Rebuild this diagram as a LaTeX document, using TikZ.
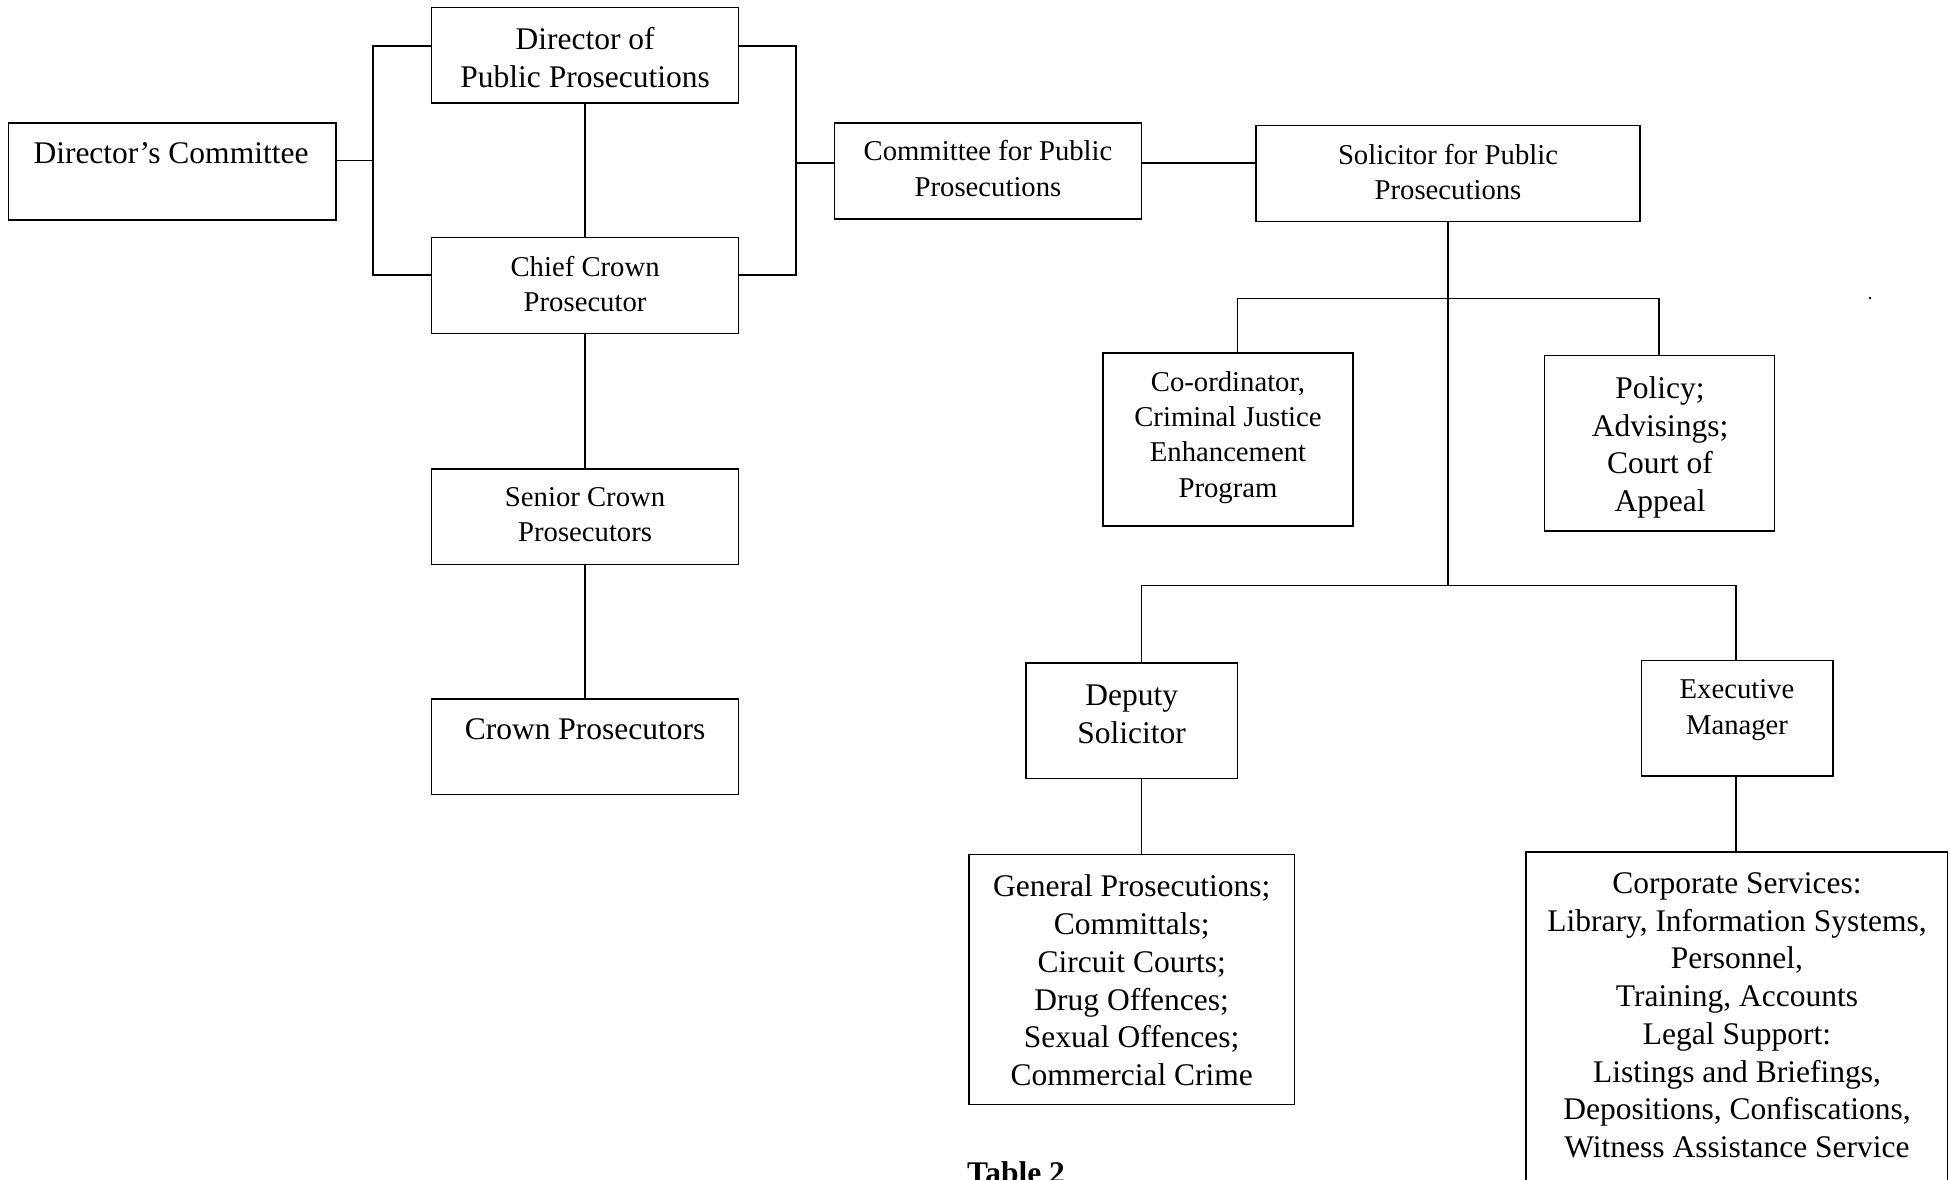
\documentclass[tikz,border=0pt]{standalone}
\usepackage{fontspec}
\setmainfont{Liberation Serif}
\usetikzlibrary{fit,calc}
\begin{document}
\begin{tikzpicture}[x=1pt,y=-1pt,
  box/.style={draw,line width=1.5pt,inner sep=0pt,rectangle},
  conn/.style={line width=1.5pt},
  big/.style={font=\fontsize{31.5}{37.8}\selectfont,align=center,inner sep=0pt},
  small/.style={font=\fontsize{28.7}{35.3}\selectfont,align=center,inner sep=0pt}]
\clip (0,0) rectangle (1950,1179);
\fill[white] (0,0) rectangle (1950,1179);
% boxes
\node[box,fit={(431.5,7.5) (738.7,103.2)}] (dpp) {};
\node[box,fit={(8.7,123) (335.8,220)}] (dc) {};
\node[box,fit={(431.5,237.5) (738.7,333.3)}] (ccp) {};
\node[box,fit={(431.5,468.8) (738.7,564.6)}] (scp) {};
\node[box,fit={(431.5,699) (738.7,794.7)}] (cp) {};
\node[box,fit={(834.5,123) (1141.6,219)}] (cpp) {};
\node[box,fit={(1256,125.6) (1640,221.4)}] (sol) {};
\node[box,fit={(1103,353) (1353,526)}] (coord) {};
\node[box,fit={(1544.5,355.7) (1774.6,531)}] (pol) {};
\node[box,fit={(1026,662.8) (1237.4,778.5)}] (dep) {};
\node[box,fit={(1641.5,660.4) (1833,776)}] (exe) {};
\node[box,fit={(968.8,854.4) (1294.6,1104.3)}] (gen) {};
\node[box,fit={(1526,852) (1947.5,1215)}] (corp) {};
% texts
\node[big] (dpp-t) at (585.1,57.2) {Director of\\Public Prosecutions};
\node[big] (dc-t) at (171,153) {Director’s Committee};
\node[small] (ccp-t) at (585.1,284.2) {Chief Crown\\Prosecutor};
\node[small] (scp-t) at (585.1,514.9) {Senior Crown\\Prosecutors};
\node[big] (cp-t) at (585.1,728.8) {Crown Prosecutors};
\node[small] (cpp-t) at (988,168.5) {Committee for Public\\Prosecutions};
\node[small] (sol-t) at (1448,172.2) {Solicitor for Public\\Prosecutions};
\node[small] (coord-t) at (1228,437.3) {Co-ordinator,\\Criminal Justice\\Enhancement\\Program};
\node[big] (pol-t) at (1660,447.5) {Policy;\\Advisings;\\Court of\\Appeal};
\node[big] (dep-t) at (1131.7,714.2) {Deputy\\Solicitor};
\node[small] (exe-t) at (1737,710.2) {Executive\\Manager};
\node[big] (gen-t) at (1131.7,980.5) {General Prosecutions;\\Committals;\\Circuit Courts;\\Drug Offences;\\Sexual Offences;\\Commercial Crime};
\node[font=\fontsize{31.5}{37.7}\selectfont,align=center,inner sep=0pt] (corp-t) at (1737,1015.3) {Corporate Services:\\Library, Information Systems,\\Personnel,\\Training, Accounts\\Legal Support:\\Listings and Briefings,\\Depositions, Confiscations,\\Witness Assistance Service};
\node[anchor=base west,font=\bfseries\fontsize{31.5}{37.8}\selectfont,inner sep=0pt] (tab) at (967,1183) {Table 2};
% junction coordinates
\coordinate (lbT) at (373,46);
\coordinate (lbM) at (373,160.4);
\coordinate (lbB) at (373,275);
\coordinate (rbT) at (796,46);
\coordinate (rbM) at (796,163);
\coordinate (rbB) at (796,275);
\coordinate (hA) at (1190,163);
\coordinate (cL) at (1237.4,298.5);
\coordinate (cR) at (1659,298.5);
\coordinate (jA) at (1448,298.5);
\coordinate (dL) at (1141.6,585.7);
\coordinate (dR) at (1736,585.7);
\coordinate (jB) at (1448,585.7);
% connectors
\draw[conn] (dpp.west |- lbT) -- (lbT) -- (lbB) -- (ccp.west |- lbB);
\draw[conn] (dc.east |- lbM) -- (lbM);
\draw[conn] (dpp.east |- rbT) -- (rbT) -- (rbB) -- (ccp.east |- rbB);
\draw[conn] (rbM) -- (cpp.west |- rbM);
\draw[conn] (dpp) -- (ccp);
\draw[conn] (ccp) -- (scp);
\draw[conn] (scp) -- (cp);
\draw[conn] (cpp.east |- hA) -- (sol.west |- hA);
\draw[conn] (sol.south) -- (jB);
\draw[conn] (coord.north -| cL) -- (cL) -- (cR) -- (pol.north -| cR);
\draw[conn] (dep.north -| dL) -- (dL) -- (dR) -- (exe.north -| dR);
\draw[conn] (dep.south -| dL) -- (gen.north -| dL);
\draw[conn] (exe.south -| dR) -- (corp.north -| dR);
\fill (1870,298) circle (1.3);
\end{tikzpicture}
\end{document}
